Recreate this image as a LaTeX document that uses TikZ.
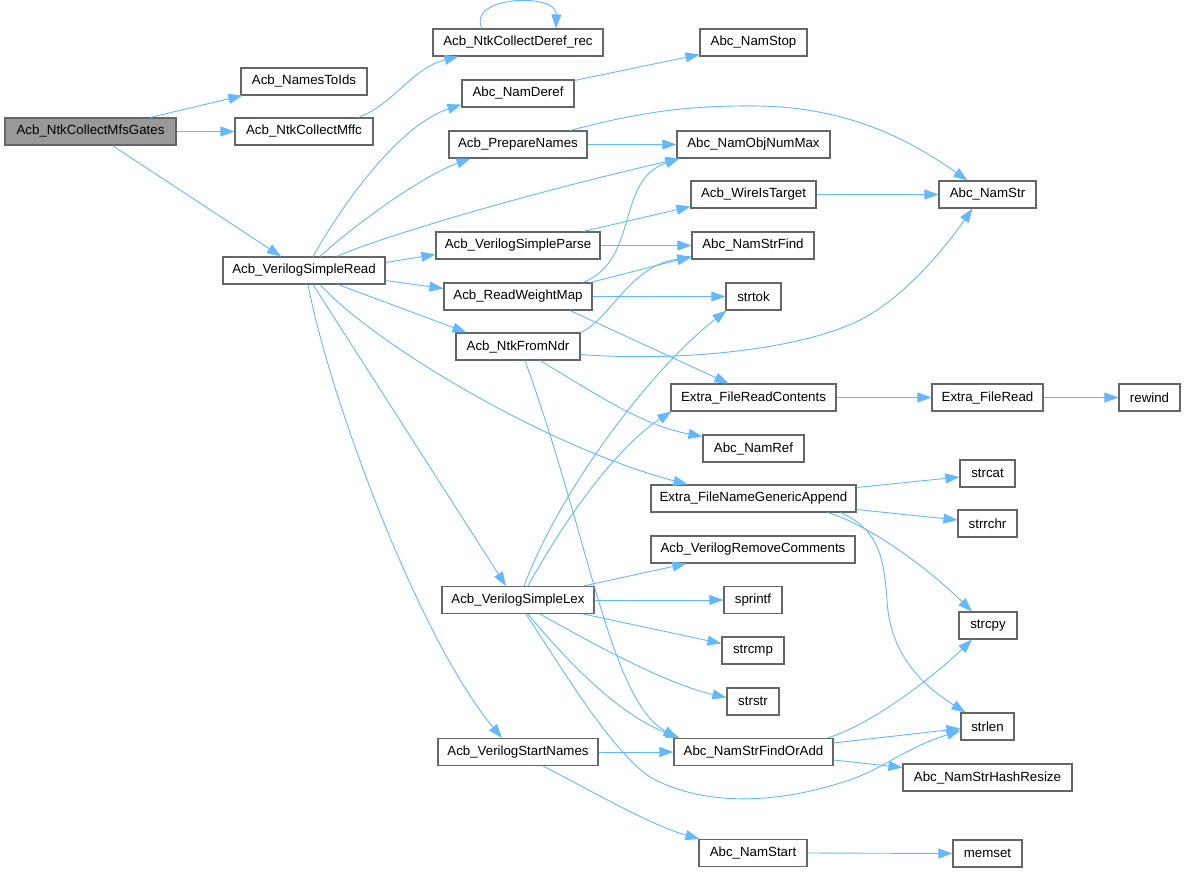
\documentclass[tikz,border=0pt]{standalone}
\usepackage{fontspec}
\setmainfont{Liberation Sans}
\usetikzlibrary{arrows.meta,calc}
\definecolor{edgeblue}{HTML}{63B8FF}
\definecolor{nodeborder}{HTML}{666666}
\definecolor{rootfill}{HTML}{999999}
\begin{document}
\begin{tikzpicture}[x=1pt,y=-1pt,
  fn/.style={draw=nodeborder, line width=1.1pt, fill=white, rectangle, inner sep=0pt,
    minimum height=27pt, font=\fontsize{13.3}{16}\selectfont, text=black},
  rootnode/.style={fn, fill=rootfill},
  call/.style={draw=edgeblue, line width=0.9pt, -{Triangle[length=14pt,width=10pt]}, fill=none}]
\useasboundingbox (0,0) rectangle (1185,872);
% nodes
\node[rootnode, minimum width=171pt] (root) at (90.5,131.5) {Acb\_NtkCollectMfsGates};
\node[fn, minimum width=126pt] (n2ids) at (304,81.5) {Acb\_NamesToIds};
\node[fn, minimum width=138pt] (mffc) at (304,131.5) {Acb\_NtkCollectMffc};
\node[fn, minimum width=162pt] (sread) at (304,270.5) {Acb\_VerilogSimpleRead};
\node[fn, minimum width=170pt] (deref) at (518,42.5) {Acb\_NtkCollectDeref\_rec};
\node[fn, minimum width=107pt] (stop) at (753.5,42.5) {Abc\_NamStop};
\node[fn, minimum width=112pt] (namderef) at (518,93.5) {Abc\_NamDeref};
\node[fn, minimum width=138pt] (prep) at (518,144.5) {Acb\_PrepareNames};
\node[fn, minimum width=153pt] (objmax) at (753.5,144.5) {Abc\_NamObjNumMax};
\node[fn, minimum width=125pt] (wire) at (753.5,194.5) {Acb\_WireIsTarget};
\node[fn, minimum width=97pt] (namstr) at (987.5,194.5) {Abc\_NamStr};
\node[fn, minimum width=164pt] (sparse) at (518,245.5) {Acb\_VerilogSimpleParse};
\node[fn, minimum width=122pt] (strfind) at (753,245.5) {Abc\_NamStrFind};
\node[fn, minimum width=148pt] (rwm) at (518,296.5) {Acb\_ReadWeightMap};
\node[fn, minimum width=55pt] (strtok) at (753.5,296.5) {strtok};
\node[fn, minimum width=124pt] (fromndr) at (518,346.5) {Acb\_NtkFromNdr};
\node[fn, minimum width=165pt] (frc) at (753.5,397.5) {Extra\_FileReadContents};
\node[fn, minimum width=111pt] (fread) at (987.5,397.5) {Extra\_FileRead};
\node[fn, minimum width=61pt] (rewind) at (1149.5,397.5) {rewind};
\node[fn, minimum width=101pt] (namref) at (753.5,448.5) {Abc\_NamRef};
\node[fn, minimum width=205pt] (fnga) at (753.5,498.5) {Extra\_FileNameGenericAppend};
\node[fn, minimum width=55pt] (strcat) at (987.5,473.5) {strcat};
\node[fn, minimum width=59pt] (strrchr) at (987.5,523.5) {strrchr};
\node[fn, minimum width=204pt] (rmc) at (753,549.5) {Acb\_VerilogRemoveComments};
\node[fn, minimum width=152pt] (slex) at (518,600) {Acb\_VerilogSimpleLex};
\node[fn, minimum width=58pt] (sprintf) at (753,600) {sprintf};
\node[fn, minimum width=62pt] (strcmp) at (753,650.5) {strcmp};
\node[fn, minimum width=52pt] (strstr) at (753,701.5) {strstr};
\node[fn, minimum width=58pt] (strcpy) at (988,625.5) {strcpy};
\node[fn, minimum width=53pt] (strlen) at (987.5,726.5) {strlen};
\node[fn, minimum width=160pt] (startnames) at (518,752) {Acb\_VerilogStartNames};
\node[fn, minimum width=159pt] (findoradd) at (753.5,752) {Abc\_NamStrFindOrAdd};
\node[fn, minimum width=169pt] (hashresize) at (987.5,777.5) {Abc\_NamStrHashResize};
\node[fn, minimum width=108pt] (namstart) at (753,853) {Abc\_NamStart};
\node[fn, minimum width=69pt] (memset) at (987.5,853.5) {memset};
% edges
\draw[call] ($(root.north)+(60,0)$) -- ($(n2ids.south west)+(2,0)$);
\draw[call] (root.east) -- (mffc.west);
\draw[call] ($(root.south)+(22,0)$) -- ($(sread.north)+(-23,0)$);
\draw[call] ($(mffc.north)+(54,0)$) .. controls (392,106) and (412,68) .. ($(deref.south west)+(26,0)$);
\draw[call] ($(deref.north)+(-36,0)$) .. controls (466,-4) and (557,-8) .. ($(deref.north)+(38,0)$);
\draw[call] ($(namderef.north east)+(0,1)$) -- ($(stop.south west)+(0,-2)$);
\draw[call] ($(sread.north)+(9,0)$) .. controls (345,200) and (400,125) .. ($(namderef.south west)+(0,-3)$);
\draw[call] ($(sread.north)+(16,0)$) .. controls (360,220) and (425,175) .. ($(prep.south west)+(22,0)$);
\draw[call] ($(sread.north)+(33,0)$) .. controls (365,243) and (500,200) .. ($(objmax.south west)+(3,0)$);
\draw[call] ($(sread.east)+(0,-8)$) -- ($(sparse.west)+(0,9)$);
\draw[call] ($(sread.east)+(0,10)$) -- ($(rwm.west)+(0,-8)$);
\draw[call] ($(sread.south)+(34,0)$) -- ($(fromndr.north west)+(11,0)$);
\draw[call] ($(sread.south)+(16,0)$) .. controls (370,340) and (540,445) .. ($(fnga.north west)+(37,0)$);
\draw[call] ($(sread.south)+(9,0)$) -- ($(slex.north)+(-12,0)$);
\draw[call] ($(sread.south)+(4,0)$) .. controls (330,400) and (420,640) .. ($(startnames.north)+(-16,0)$);
\draw[call] (prep.east) -- (objmax.west);
\draw[call] ($(prep.north)+(52,0)$) .. controls (640,112) and (690,105) .. (760,106) .. controls (850,108) and (910,140) .. ($(namstr.north)+(-20,0)$);
\draw[call] (wire.east) -- (namstr.west);
\draw[call] ($(sparse.north)+(65,0)$) -- ($(wire.south west)+(0,-2)$);
\draw[call] (sparse.east) -- (strfind.west);
\draw[call] ($(rwm.north)+(65,0)$) .. controls (640,260) and (615,180) .. ($(objmax.south west)+(3,0)$);
\draw[call] ($(rwm.north east)+(-2,0)$) -- ($(strfind.west)+(0,11)$);
\draw[call] (rwm.east) -- (strtok.west);
\draw[call] ($(rwm.south)+(52,0)$) -- ($(frc.north)+(-25,0)$);
\draw[call] (fromndr.north east) .. controls (610,320) and (630,265) .. ($(strfind.south west)+(0,-2)$);
\draw[call] ($(fromndr.east)+(0,8)$) .. controls (680,362) and (800,350) .. (860,320) .. controls (900,300) and (940,255) .. ($(namstr.south)+(-15,0)$);
\draw[call] ($(fromndr.south)+(22,0)$) .. controls (590,390) and (640,425) .. ($(namref.north west)+(0,2)$);
\draw[call] ($(fromndr.south)+(7,0)$) .. controls (590,540) and (610,700) .. ($(findoradd.north west)+(4,0)$);
\draw[call] (frc.east) -- (fread.west);
\draw[call] (fread.east) -- (rewind.west);
\draw[call] ($(slex.north)+(6,0)$) .. controls (560,490) and (650,370) .. ($(strtok.south west)+(1,0)$);
\draw[call] ($(slex.north)+(10,0)$) .. controls (570,510) and (620,445) .. ($(frc.south west)+(1,0)$);
\draw[call] ($(slex.north east)+(-11,0)$) -- ($(rmc.south west)+(36,0)$);
\draw[call] (slex.east) -- (sprintf.west);
\draw[call] ($(slex.south east)+(-11,0)$) -- ($(strcmp.west)+(0,-7)$);
\draw[call] ($(slex.south)+(22,0)$) .. controls (600,648) and (670,685) .. ($(strstr.west)+(0,-4)$);
\draw[call] ($(slex.south)+(10,0)$) .. controls (570,665) and (620,715) .. ($(findoradd.north west)+(6,0)$);
\draw[call] ($(slex.south)+(8,0)$) .. controls (560,665) and (610,750) .. (650,777) .. controls (700,805) and (770,805) .. (840,783) .. controls (880,772) and (900,750) .. ($(strlen.west)+(0,4)$);
\draw[call] (startnames.east) -- (findoradd.west);
\draw[call] ($(startnames.south)+(25,0)$) .. controls (590,790) and (650,825) .. ($(namstart.north west)+(1,0)$);
\draw[call] ($(findoradd.north east)+(-6,0)$) .. controls (870,725) and (930,680) .. ($(strcpy.south)+(-16,0)$);
\draw[call] ($(findoradd.east)+(0,-9)$) -- ($(strlen.west)+(0,2)$);
\draw[call] ($(findoradd.east)+(0,8)$) -- ($(hashresize.west)+(0,-10)$);
\draw[call] ($(fnga.east)+(0,-11)$) -- ($(strcat.west)+(0,3.5)$);
\draw[call] ($(fnga.east)+(0,11)$) -- ($(strrchr.west)+(0,-3.5)$);
\draw[call] ($(fnga.south east)+(-29,0)$) .. controls (870,525) and (930,570) .. ($(strcpy.north)+(-16,0)$);
\draw[call] ($(fnga.south east)+(-16,0)$) .. controls (880,530) and (884,560) .. (887,600) .. controls (890,660) and (930,690) .. ($(strlen.north)+(-22,0)$);
\draw[call] (namstart.east) -- (memset.west);
\end{tikzpicture}
\end{document}
